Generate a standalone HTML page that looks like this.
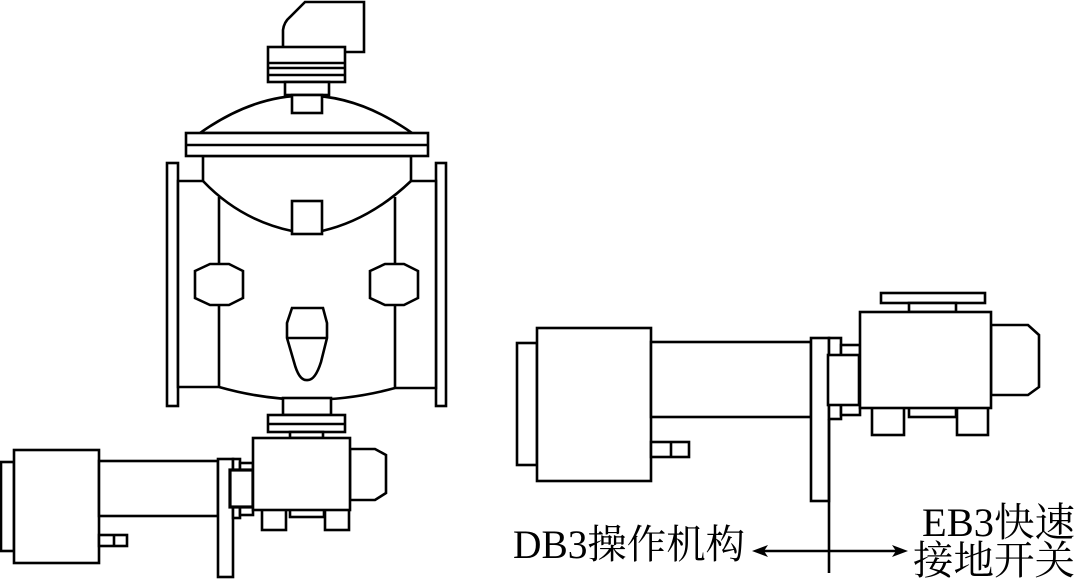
<!DOCTYPE html>
<html><head><meta charset="utf-8"><style>html,body{margin:0;padding:0;background:#fff}svg{display:block}</style></head><body>
<svg width="1080" height="579" viewBox="0 0 1080 579" xmlns="http://www.w3.org/2000/svg">
<g fill="#fff" stroke="#000" stroke-width="2.6" stroke-linejoin="miter">
<path d="M283,47 L283,30 Q284,22 290,17 L305,2 L364,2 L364,52 L340,52"/>
<rect x="268" y="47" width="77" height="35"/>
<line x1="268" y1="63" x2="345" y2="63"/><line x1="268" y1="68" x2="345" y2="68"/><line x1="268" y1="75" x2="345" y2="75"/>
<rect x="285" y="82" width="44" height="13"/>
<path d="M200,133 Q306,58 412,133 Z"/>
<rect x="292" y="95" width="30" height="18"/>
<rect x="167" y="163" width="11" height="243"/>
<rect x="436" y="163" width="10" height="243"/>
<path d="M178,181 L203,181 L203,156 L411,156 L411,181 L436,181 L436,388 L395,388 Q307,412 219,387 L178,387 Z"/>
<path d="M203,181 Q240,220 292,231 L322,231 Q370,220 411,181" fill="none"/>
<line x1="219" y1="197" x2="219" y2="387"/><line x1="395" y1="197" x2="395" y2="388"/>
<rect x="292" y="201" width="30" height="33"/>
<rect x="186" y="133" width="242" height="23"/>
<line x1="186" y1="145" x2="428" y2="145"/>
<path d="M195,271 L210,264 L229,264 L243,271 L243,298 L229,305 L210,305 L195,298 Z"/>
<path d="M370,271 L385,264 L404,264 L418,271 L418,298 L404,305 L385,305 L370,298 Z"/>
<path d="M292,308 L323,308 L327,323 L327,338 L321,362 Q315,381 307,380 Q299,381 294,362 L287,338 L287,323 Z"/>
<line x1="287" y1="338" x2="327" y2="338"/>
<rect x="283" y="398" width="48" height="17"/>
<rect x="268" y="415" width="77" height="17"/>
<line x1="268" y1="424" x2="345" y2="424"/>
<rect x="290" y="432" width="33" height="6"/>
<rect x="1" y="462" width="13" height="89"/>
<rect x="14" y="450" width="85" height="113"/>
<rect x="99" y="461" width="119" height="55"/>
<rect x="99" y="535" width="28" height="11"/><line x1="114" y1="535" x2="114" y2="546"/>
<rect x="218" y="459" width="15" height="118"/>
<rect x="233" y="459" width="7" height="59"/>
<rect x="240" y="463" width="13" height="52"/>
<rect x="230" y="470" width="23" height="37" stroke-width="3.2"/>
<path d="M350,449 L375,449 L386,455 L386,493 L375,500 L350,500 Z"/>
<rect x="290" y="506" width="34" height="11"/>
<rect x="262" y="506" width="24" height="24"/>
<rect x="325" y="506" width="24" height="24"/>
<rect x="253" y="438" width="97" height="72"/>
<rect x="517" y="343" width="20" height="122"/>
<rect x="537" y="328" width="114" height="153"/>
<rect x="651" y="342" width="160" height="75"/>
<rect x="651" y="442" width="38" height="15"/><line x1="671" y1="442" x2="671" y2="457"/>
<rect x="811" y="338" width="18" height="163"/>
<rect x="829" y="338" width="12" height="81"/>
<rect x="841" y="345" width="19" height="70"/>
<rect x="828" y="355" width="31" height="50"/>
<rect x="881" y="293" width="104" height="10"/>
<rect x="909" y="303" width="47" height="9"/>
<path d="M991,325 L1028,325 L1039,335 L1039,387 L1028,395 L991,395 Z"/>
<rect x="909" y="404" width="47" height="13"/>
<rect x="872" y="404" width="32" height="31"/>
<rect x="957" y="404" width="31" height="31"/>
<rect x="860" y="312" width="131" height="96"/>
<line x1="829" y1="419" x2="829" y2="573"/>
<line x1="760" y1="551" x2="900" y2="551"/>
</g>
<path d="M752,551 L768,545 L764,551 L768,557 Z" fill="#000"/>
<path d="M908,551 L892,545 L896,551 L892,557 Z" fill="#000"/>
<g font-family="'Liberation Serif','Noto Serif CJK SC',serif" font-size="40" fill="#000">
<text x="513" y="558" textLength="232" lengthAdjust="spacingAndGlyphs">DB3操作机构</text>
<text x="922" y="536" textLength="153" lengthAdjust="spacingAndGlyphs">EB3快速</text>
<text x="913" y="574" textLength="162" lengthAdjust="spacingAndGlyphs">接地开关</text>
</g>
</svg>
</body></html>
